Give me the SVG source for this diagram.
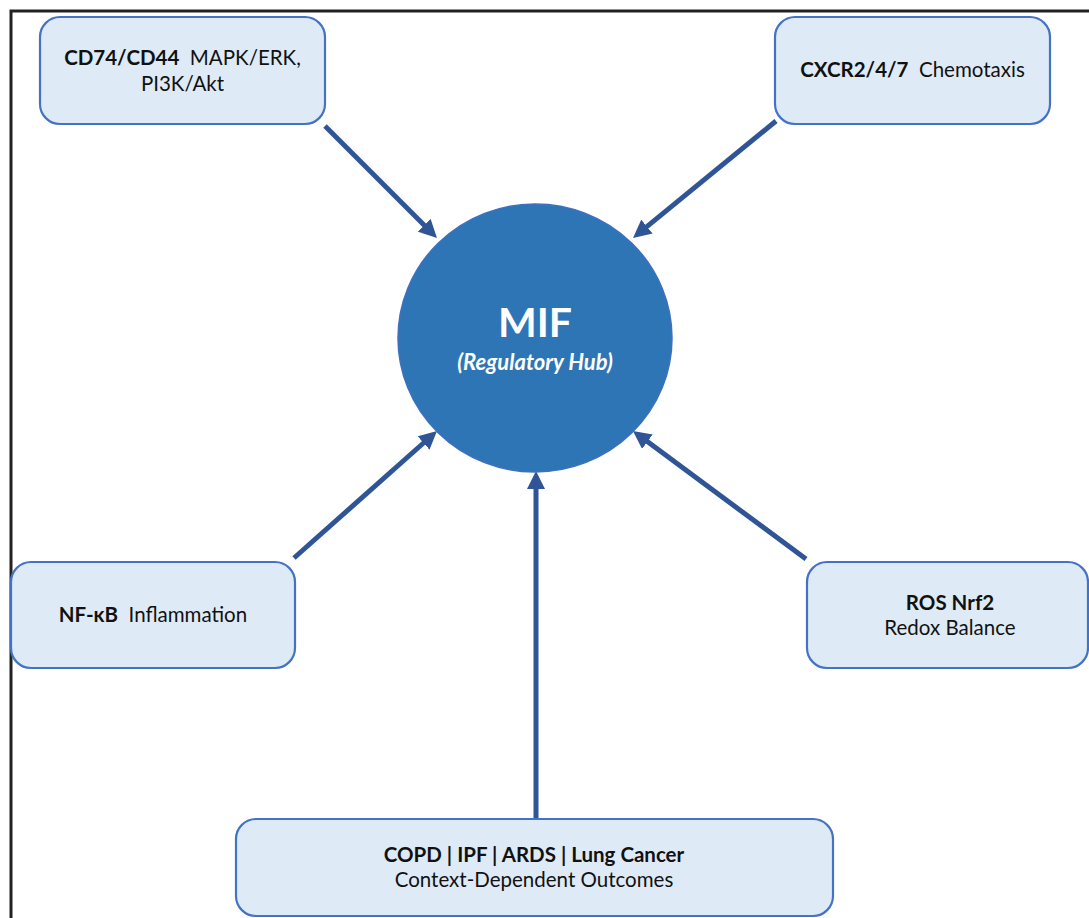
<svg xmlns="http://www.w3.org/2000/svg" width="1089" height="918" viewBox="0 0 1089 918">
<style>
.box{fill:#DEEBF7;stroke:#4472C4;stroke-width:2.2}
.t{font-family:Lato,"Open Sans","Liberation Sans",sans-serif;font-size:20.5px;fill:#111;text-anchor:middle;white-space:pre}
.b{font-weight:bold}
.conn{stroke:#2F5597;stroke-width:5;fill:none;marker-end:url(#ah)}
</style>
<defs>
<marker id="ah" markerUnits="userSpaceOnUse" markerWidth="18" markerHeight="18" refX="6" refY="9" orient="auto">
<path d="M0,0 L18,9 L0,18 z" fill="#2F5597"/>
</marker>
</defs>
<rect width="1089" height="918" fill="#fff"/>
<path d="M11,918 V11 H1089" fill="none" stroke="#222" stroke-width="3"/>
<g id="connectors">
<line class="conn" x1="325" y1="126" x2="428.5" y2="229.5"/>
<line class="conn" x1="776" y1="121" x2="642.3" y2="230.4"/>
<line class="conn" x1="294" y1="558" x2="428" y2="439"/>
<line class="conn" x1="806" y1="559" x2="642.6" y2="438.1"/>
<line class="conn" x1="536" y1="818" x2="536" y2="483"/>
</g>
<g id="mif">
<ellipse cx="535" cy="338" rx="137" ry="134" fill="#2E75B6" stroke="#3F6FC0" stroke-width="1.5"/>
<text x="535" y="337" font-family="Lato,'Open Sans','Liberation Sans',sans-serif" font-size="41" font-weight="bold" fill="#fff" text-anchor="middle">MIF</text>
<text x="535" y="370" font-family="Lato,'Open Sans','Liberation Sans',sans-serif" font-size="22" font-weight="bold" font-style="italic" fill="#fff" text-anchor="middle">(Regulatory Hub)</text>
</g>
<g id="cd74">
<rect class="box" x="40" y="17" width="285" height="107" rx="20"/>
<text class="t" x="182.5" y="65" xml:space="preserve"><tspan class="b">CD74/CD44</tspan>  MAPK/ERK,</text>
<text class="t" x="182.5" y="91">PI3K/Akt</text>
</g>
<g id="cxcr">
<rect class="box" x="775" y="17" width="275" height="107" rx="20"/>
<text class="t" x="912.5" y="77" xml:space="preserve"><tspan class="b">CXCR2/4/7</tspan>  Chemotaxis</text>
</g>
<g id="nfkb">
<rect class="box" x="11" y="562" width="284" height="106" rx="20"/>
<text class="t" x="153" y="622" xml:space="preserve"><tspan class="b">NF-κB</tspan>  Inflammation</text>
</g>
<g id="ros">
<rect class="box" x="807" y="562" width="281" height="106" rx="20"/>
<text class="t b" x="950" y="610">ROS Nrf2</text>
<text class="t" x="950" y="635">Redox Balance</text>
</g>
<g id="disease">
<rect class="box" x="236" y="819" width="597" height="97" rx="20"/>
<text class="t b" x="534" y="862">COPD | IPF | ARDS | Lung Cancer</text>
<text class="t" x="534" y="887">Context-Dependent Outcomes</text>
</g>
</svg>
